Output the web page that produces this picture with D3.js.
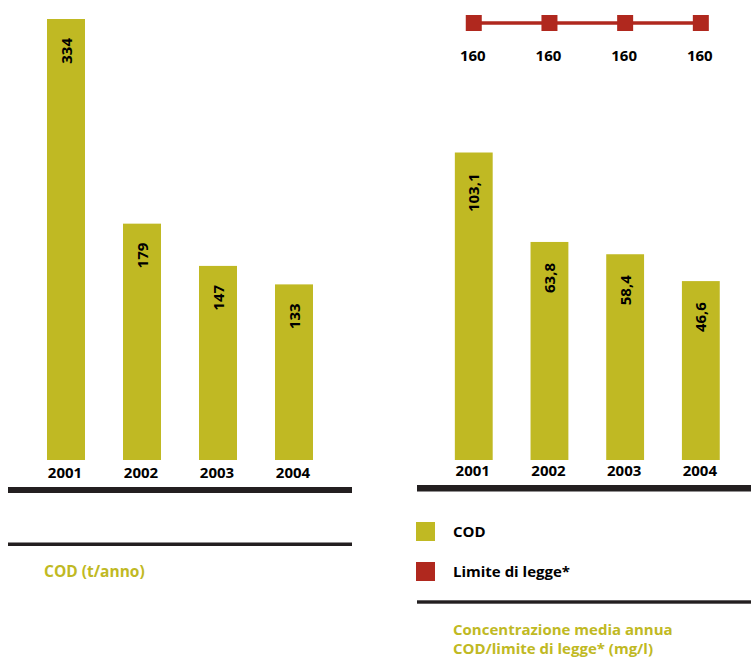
<!DOCTYPE html>
<html>
<head>
<meta charset="utf-8">
<script src="https://cdn.jsdelivr.net/npm/d3@7"></script>
<style>
  html, body { margin: 0; padding: 0; background: #fff; }
  svg { display: block; }
  text { font-family: "Open Sans", sans-serif; font-weight: bold; }
</style>
</head>
<body>
<svg id="chart" width="751" height="657"></svg>
<script>
// Years shown on both panels
const years = ["2001", "2002", "2003", "2004"];
// Annual COD load (t/anno)
const codLoad = [334, 179, 147, 133];
// Mean annual COD concentration (mg/l)
const codConc = [103.1, 63.8, 58.4, 46.6];
const codConcLabels = ["103,1", "63,8", "58,4", "46,6"];
// Legal limit (mg/l)
const legalLimit = [160, 160, 160, 160];

const OLIVE = "#c0b923";
const RED = "#b0281e";
const DARK = "#231f20";

const svg = d3.select("#chart");

// ---------- Left panel: COD (t/anno) ----------
const xL = d3.scaleBand().domain(years).range([9, 351]).paddingInner(0.5).paddingOuter(0.5);
const yL = d3.scaleLinear().domain([0, 334]).range([460, 19]);

const left = svg.append("g");
left.selectAll("rect.bar").data(codLoad).join("rect")
  .attr("class", "bar")
  .attr("x", (d, i) => xL(years[i]))
  .attr("width", xL.bandwidth())
  .attr("y", d => yL(d))
  .attr("height", d => yL(0) - yL(d))
  .attr("fill", OLIVE);

left.selectAll("text.val").data(codLoad).join("text")
  .attr("class", "val")
  .attr("transform", (d, i) => `translate(${xL(years[i]) + xL.bandwidth() / 2 + 5.5},${yL(d) + 19}) rotate(-90)`)
  .attr("text-anchor", "end")
  .attr("font-size", 15)
  .attr("fill", "#000")
  .text(d => d);

// year axis
const axL = left.append("g").attr("transform", "translate(0,460)")
  .call(d3.axisBottom(xL).tickSize(0).tickPadding(0));
axL.select(".domain").remove();
axL.selectAll("text")
  .attr("font-size", 15).attr("font-family", "Open Sans").attr("font-weight", "bold")
  .attr("fill", "#000").attr("dy", "17.5px").attr("dx", "-1");

left.append("rect").attr("x", 8).attr("y", 487).attr("width", 344).attr("height", 6).attr("fill", DARK);
left.append("rect").attr("x", 8).attr("y", 542.5).attr("width", 344).attr("height", 3.5).attr("fill", DARK);
left.append("text").attr("x", 44).attr("y", 577).attr("font-size", 15.5).attr("fill", OLIVE)
  .text("COD (t/anno)");

// ---------- Right panel: concentration vs legal limit ----------
const xR = d3.scaleBand().domain(years).range([417, 757.6]).paddingInner(0.5).paddingOuter(0.5);
const yR = d3.scaleLinear().domain([-32, 160]).range([460, 23]);

const right = svg.append("g");
right.selectAll("rect.bar").data(codConc).join("rect")
  .attr("class", "bar")
  .attr("x", (d, i) => xR(years[i]))
  .attr("width", xR.bandwidth())
  .attr("y", d => yR(d))
  .attr("height", d => yR(-32) - yR(d))
  .attr("fill", OLIVE);

right.selectAll("text.val").data(codConc).join("text")
  .attr("class", "val")
  .attr("transform", (d, i) => `translate(${xR(years[i]) + xR.bandwidth() / 2 + 5.5},${yR(d) + 21}) rotate(-90)`)
  .attr("text-anchor", "end")
  .attr("font-size", 15)
  .attr("fill", "#000")
  .text((d, i) => codConcLabels[i]);

// legal limit line with square markers
const cx = i => xR(years[i]) + xR.bandwidth() / 2;
const line = d3.line().x((d, i) => cx(i)).y(d => yR(d));
right.append("path").datum(legalLimit)
  .attr("d", line).attr("fill", "none").attr("stroke", RED).attr("stroke-width", 3.5);
right.selectAll("rect.mk").data(legalLimit).join("rect")
  .attr("class", "mk")
  .attr("x", (d, i) => cx(i) - 8).attr("y", d => yR(d) - 8)
  .attr("width", 16).attr("height", 16).attr("fill", RED);
right.selectAll("text.lim").data(legalLimit).join("text")
  .attr("class", "lim")
  .attr("x", (d, i) => cx(i) - 1).attr("y", d => yR(d) + 38)
  .attr("text-anchor", "middle").attr("font-size", 15).attr("fill", "#000")
  .text(d => d);

const axR = right.append("g").attr("transform", "translate(0,460)")
  .call(d3.axisBottom(xR).tickSize(0).tickPadding(0));
axR.select(".domain").remove();
axR.selectAll("text")
  .attr("font-size", 15).attr("font-family", "Open Sans").attr("font-weight", "bold")
  .attr("fill", "#000").attr("dy", "16px").attr("dx", "-1");

right.append("rect").attr("x", 417).attr("y", 485).attr("width", 334).attr("height", 6.5).attr("fill", DARK);

// legend
const legend = [{ label: "COD", color: OLIVE }, { label: "Limite di legge*", color: RED }];
const lg = right.selectAll("g.lg").data(legend).join("g")
  .attr("class", "lg")
  .attr("transform", (d, i) => `translate(416,${522 + i * 40})`);
lg.append("rect").attr("width", 19).attr("height", 19).attr("fill", d => d.color);
lg.append("text").attr("x", 37).attr("y", 15).attr("font-size", 15).attr("fill", "#000").text(d => d.label);

right.append("rect").attr("x", 417).attr("y", 600.3).attr("width", 334).attr("height", 3.4).attr("fill", DARK);
right.append("text").attr("x", 453).attr("y", 635).attr("font-size", 15).attr("fill", OLIVE)
  .text("Concentrazione media annua");
right.append("text").attr("x", 453).attr("y", 654).attr("font-size", 15).attr("fill", OLIVE)
  .text("COD/limite di legge* (mg/l)");
</script>
</body>
</html>
